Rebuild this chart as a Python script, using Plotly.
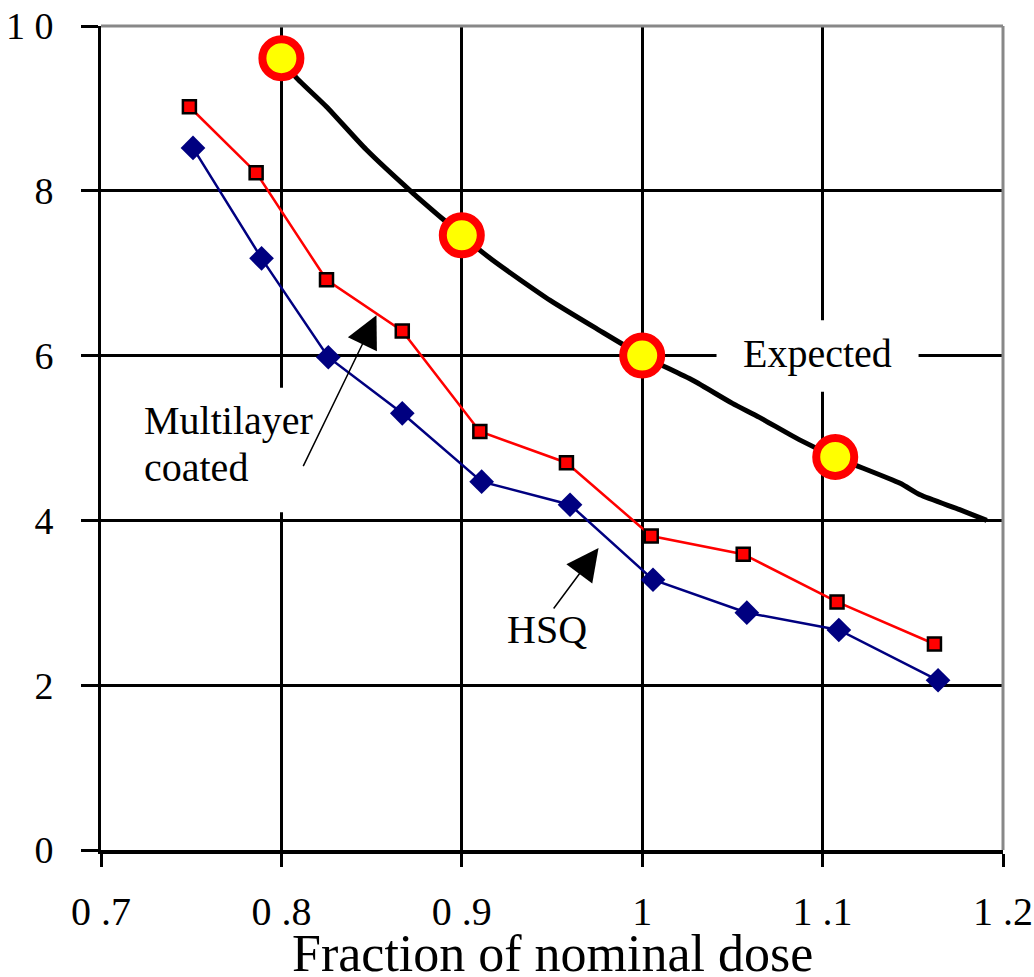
import plotly.graph_objects as go

# ---------------- data ----------------
hsq_x = [0.751, 0.789, 0.826, 0.867, 0.911, 0.960, 1.006, 1.058, 1.109, 1.164]
hsq_y = [8.52, 7.18, 5.98, 5.30, 4.47, 4.19, 3.28, 2.88, 2.67, 2.06]

ml_x = [0.749, 0.786, 0.825, 0.867, 0.910, 0.958, 1.005, 1.056, 1.108, 1.162]
ml_y = [9.02, 8.22, 6.92, 6.30, 5.08, 4.70, 3.81, 3.59, 3.01, 2.50]

exp_curve_x = [0.800, 0.808, 0.825, 0.847, 0.873, 0.892, 0.900, 0.917, 0.949, 0.976,
               1.000, 1.028, 1.050, 1.065, 1.087, 1.107, 1.143, 1.154, 1.176, 1.191]
exp_curve_y = [9.61, 9.38, 9.02, 8.50, 7.97, 7.61, 7.46, 7.16, 6.67, 6.31,
               6.00, 5.70, 5.42, 5.25, 4.98, 4.77, 4.45, 4.31, 4.13, 4.00]

exp_pts_x = [0.800, 0.900, 1.000, 1.107]
exp_pts_y = [9.61, 7.46, 6.00, 4.77]

x_tickvals = [0.7, 0.8, 0.9, 1.0, 1.1, 1.2]
x_ticktext = ["0 .7", "0 .8", "0 .9", "1", "1 .1", "1 .2"]
y_tickvals = [0, 2, 4, 6, 8, 10]
y_ticktext = ["0", "2", "4", "6", "8", "1 0"]

FONT = "Liberation Serif"

fig = go.Figure()

fig.add_trace(go.Scatter(x=exp_curve_x, y=exp_curve_y, mode="lines",
                         line=dict(color="black", width=5, shape="spline", smoothing=0.6),
                         showlegend=False))
fig.add_trace(go.Scatter(x=ml_x, y=ml_y, mode="lines+markers",
                         line=dict(color="#FF0000", width=2.5),
                         marker=dict(symbol="square", size=13, color="#FF0000",
                                     line=dict(color="black", width=2.5)),
                         showlegend=False))
fig.add_trace(go.Scatter(x=hsq_x, y=hsq_y, mode="lines+markers",
                         line=dict(color="#000080", width=2.5),
                         marker=dict(symbol="diamond", size=19, color="#000080",
                                     line=dict(color="#000080", width=0)),
                         showlegend=False))
fig.add_trace(go.Scatter(x=exp_pts_x, y=exp_pts_y, mode="markers",
                         marker=dict(symbol="circle", size=38, color="#FFFF00",
                                     line=dict(color="#FF0000", width=8)),
                         showlegend=False))

# white boxes behind the labels (hide gridlines, keep traces)
fig.add_shape(type="rect", xref="x", yref="y", x0=0.7186, x1=0.821, y0=4.10, y1=5.61,
              fillcolor="white", line=dict(width=0), layer="between")
fig.add_shape(type="rect", xref="x", yref="y", x0=1.0412, x1=1.1532, y0=5.56, y1=6.43,
              fillcolor="white", line=dict(width=0), layer="between")

# gray top / right frame
fig.add_shape(type="line", xref="paper", yref="paper", x0=0, x1=1, y0=1, y1=1,
              line=dict(color="#888888", width=3), layer="above")
fig.add_shape(type="line", xref="paper", yref="paper", x0=1, x1=1, y0=0, y1=1,
              line=dict(color="#888888", width=3), layer="above")

txt = dict(family=FONT, size=40, color="black")
fig.add_annotation(x=1.0972, y=6.02, text="Expected", showarrow=False, font=txt,
                   xanchor="center", yanchor="middle")
fig.add_annotation(x=0.723, y=5.21, text="Multilayer", showarrow=False, font=txt,
                   xanchor="left", yanchor="middle")
fig.add_annotation(x=0.723, y=4.64, text="coated", showarrow=False, font=txt,
                   xanchor="left", yanchor="middle")
fig.add_annotation(x=0.9242, y=2.67, text="HSQ", showarrow=False, font=txt,
                   xanchor="left", yanchor="middle")

# arrows
fig.add_annotation(x=0.8527, y=6.49, ax=0.8117, ay=4.64, axref="x", ayref="y",
                   text="", showarrow=True, arrowhead=2, arrowsize=4.3, arrowwidth=1.5,
                   arrowcolor="black")
fig.add_annotation(x=0.9758, y=3.665, ax=0.9503, ay=2.913, axref="x", ayref="y",
                   text="", showarrow=True, arrowhead=2, arrowsize=4.3, arrowwidth=1.5,
                   arrowcolor="black")

# axis title
fig.add_annotation(x=0.5, y=-0.1262, xref="paper", yref="paper",
                   text="Fraction of nominal dose", showarrow=False,
                   font=dict(family=FONT, size=52, color="black"),
                   xanchor="center", yanchor="middle")

fig.update_xaxes(range=[0.7, 1.2], tickmode="array", tickvals=x_tickvals, ticktext=x_ticktext,
                 showgrid=True, gridcolor="black", gridwidth=3,
                 showline=True, linecolor="black", linewidth=4,
                 ticks="outside", ticklen=13, tickwidth=3, tickcolor="black",
                 tickfont=dict(family=FONT, size=40, color="black"),
                 ticklabelstandoff=10, zeroline=False)
fig.update_yaxes(range=[0, 10], tickmode="array", tickvals=y_tickvals, ticktext=y_ticktext,
                 showgrid=True, gridcolor="black", gridwidth=3,
                 showline=True, linecolor="black", linewidth=3,
                 ticks="outside", ticklen=17, tickwidth=3, tickcolor="black",
                 tickfont=dict(family=FONT, size=38, color="black"),
                 ticklabelstandoff=20, zeroline=False)

fig.update_layout(width=1034, height=977,
                  margin=dict(l=101, r=31, t=26, b=127, autoexpand=False),
                  plot_bgcolor="white", paper_bgcolor="white", showlegend=False)

fig.write_html("out.html")
